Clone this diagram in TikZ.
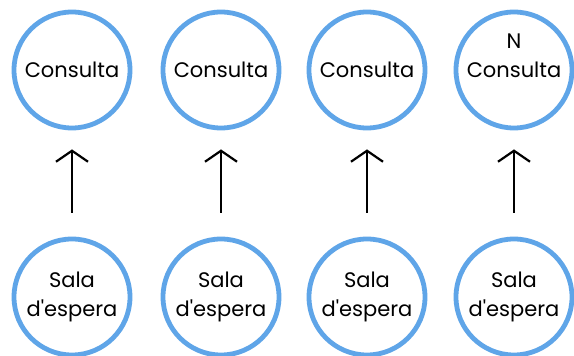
\documentclass[tikz,border=0pt]{standalone}
\usepackage{fontspec}
\newfontfamily\popfont{Poppins}
\usetikzlibrary{arrows.meta}
\definecolor{ringblue}{RGB}{95,165,232}
\tikzset{
  lbl/.style={font=\popfont\fontsize{21}{29}\selectfont, text=black, align=center},
  ring/.style={lbl, circle, draw=ringblue, line width=4.8pt, minimum size=116pt, inner sep=0pt},
  upar/.style={draw=black, line width=2.2pt, -{Straight Barb[length=11pt, width=32pt, line width=2.2pt]}}
}
\begin{document}
\begin{tikzpicture}[x=1pt, y=1pt]
\useasboundingbox (0,0) rectangle (574,356);
\fill[white] (0,0) rectangle (574,356);
% top circles
\node[ring] (c1) at (72,286) {Consulta};
\node[ring] (c2) at (221,286) {Consulta};
\node[ring] (c3) at (367,286) {Consulta};
\node[ring] (c4) at (514,286) {};
\node[lbl] (n4) at (514,315) {N};
\node[lbl] (t4) at (514,286) {Consulta};
% bottom circles
\node[ring] (s1) at (72,59) {Sala\\d'espera};
\node[ring] (s2) at (221,59) {Sala\\d'espera};
\node[ring] (s3) at (367,59) {Sala\\d'espera};
\node[ring] (s4) at (514,59) {Sala\\d'espera};
% arrows
\foreach \i in {1,2,3,4} {
  \coordinate (a\i) at ([yshift=24pt]s\i.north);
  \coordinate (b\i) at ([yshift=-19pt]c\i.south);
  \draw[upar] (a\i) -- (b\i);
}
\end{tikzpicture}
\end{document}
